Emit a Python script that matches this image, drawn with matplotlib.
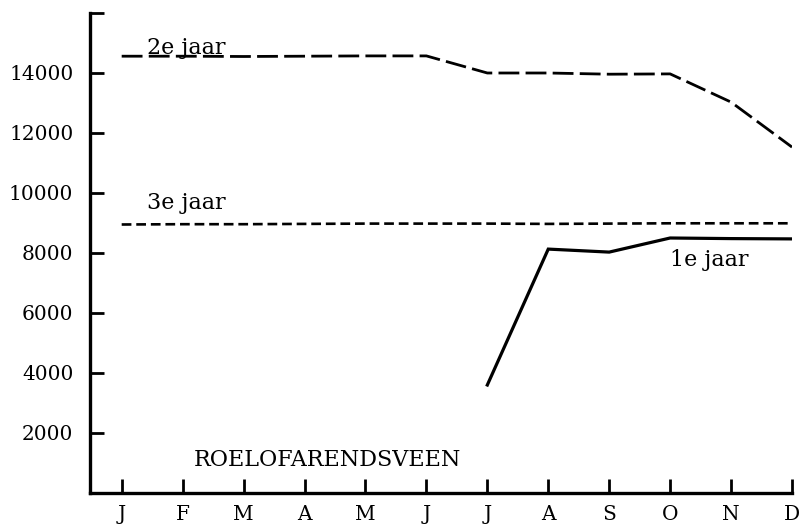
import matplotlib
matplotlib.use('Agg')
import matplotlib.pyplot as plt

plt.rcParams['font.family'] = ['DejaVu Serif']
plt.rcParams['lines.scale_dashes'] = False

# maanden
maanden = ['J', 'F', 'M', 'A', 'M', 'J', 'J', 'A', 'S', 'O', 'N', 'D']

# 1e jaar (vanaf juli)
jaar1_x = [6, 7, 8, 9, 10, 11]
jaar1 = [3600, 8130, 8030, 8500, 8480, 8470]

# 2e jaar
jaar2 = [14560, 14560, 14550, 14560, 14570, 14570, 14000, 14000, 13960, 13970, 13030, 11530]

# 3e jaar
jaar3 = [8950, 8960, 8960, 8970, 8980, 8980, 8980, 8970, 8980, 8990, 8990, 8990]

y_ticks = [2000, 4000, 6000, 8000, 10000, 12000, 14000, 16000]
y_labels = ['2000', '4000', '6000', '8000', '10000', '12000', '14000', '']

fig = plt.figure(figsize=(8.01, 5.30), dpi=100)
ax = fig.add_axes([90/801, 1 - 493/530, 702/801, 480/530])

x = list(range(12))
ax.plot(x, jaar2, color='black', lw=2.0, dashes=(15, 4.5))
ax.plot(x, jaar3, color='black', lw=1.9, dashes=(7, 3.5))
ax.plot(jaar1_x, jaar1, color='black', lw=2.3, solid_joinstyle='miter')

ax.text(0.41, 14640, '2e jaar', fontsize=16, ha='left', va='baseline')
ax.text(0.41, 9670, '3e jaar', fontsize=16, ha='left', va='center')
ax.text(8.99, 7770, '1e jaar', fontsize=16, ha='left', va='center')
ax.text(1.19, 1100, 'ROELOFARENDSVEEN', fontsize=16, ha='left', va='center')

ax.set_xlim(-0.52, 11)
ax.set_ylim(0, 16000)
ax.set_xticks(x)
ax.set_xticklabels(maanden)
ax.set_yticks(y_ticks)
ax.set_yticklabels(y_labels)

for s in ['top', 'right']:
    ax.spines[s].set_visible(False)
for s in ['left', 'bottom']:
    ax.spines[s].set_linewidth(2.4)

ax.tick_params(axis='both', direction='in', length=10, width=2, labelsize=14.5)
ax.tick_params(axis='x', pad=9)
ax.tick_params(axis='y', pad=12)

fig.savefig('out.png', dpi=100)
